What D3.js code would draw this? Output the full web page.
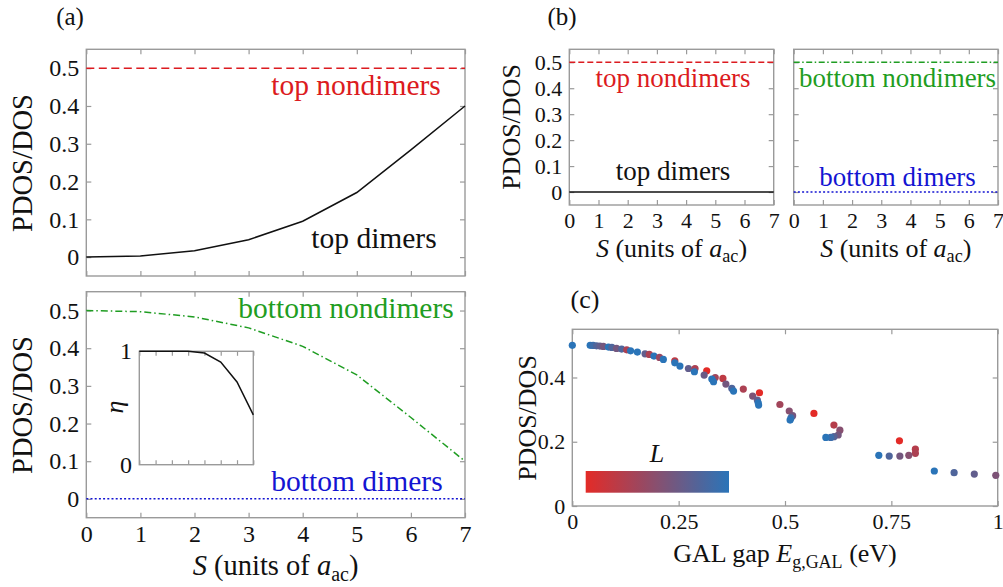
<!DOCTYPE html>
<html>
<head>
<meta charset="utf-8">
<script src="https://cdn.jsdelivr.net/npm/d3@7"></script>
<style>
body { margin: 0; background: #fff; }
svg text { font-family: "Liberation Serif", "Times New Roman", serif; fill: #111; }
</style>
</head>
<body>
<div id="fig"></div>
<script>
// separation S, in units of a_ac
var sVals = [0, 1, 2, 3, 4, 5, 6, 7];

// (a) PDOS/DOS against S
var topDimers       = [0, 0.003, 0.017, 0.046, 0.095, 0.171, 0.284, 0.4];
var topNondimers    = [0.5, 0.5, 0.5, 0.5, 0.5, 0.5, 0.5, 0.5];
var bottomNondimers = [0.5, 0.497, 0.483, 0.454, 0.405, 0.329, 0.216, 0.1];
var bottomDimers    = [0, 0, 0, 0, 0, 0, 0, 0];
var etaVals         = [1, 1, 1, 1, 0.985, 0.905, 0.73, 0.44];

// (b) PDOS/DOS against S, second structure
var bTopNondimers    = [0.5, 0.5, 0.5, 0.5, 0.5, 0.5, 0.5, 0.5];
var bTopDimers       = [0, 0, 0, 0, 0, 0, 0, 0];
var bBottomNondimers = [0.5, 0.5, 0.5, 0.5, 0.5, 0.5, 0.5, 0.5];
var bBottomDimers    = [0, 0, 0, 0, 0, 0, 0, 0];

// (c) PDOS/DOS against the GAL gap, coloured by L (0 = short, 1 = long)
var gapE = [0, 0.042, 0.049, 0.057, 0.065, 0.073, 0.085, 0.093, 0.104, 0.116, 0.128, 0.137,
  0.153, 0.171, 0.181, 0.192, 0.205, 0.214, 0.241, 0.241, 0.253, 0.273, 0.2885, 0.287,
  0.316, 0.310, 0.336, 0.328, 0.332, 0.354, 0.361, 0.375, 0.379, 0.402, 0.424, 0.440,
  0.435, 0.437, 0.438, 0.488, 0.510, 0.518, 0.514, 0.512, 0.568, 0.615, 0.629, 0.625,
  0.615, 0.6075, 0.596, 0.769, 0.8065, 0.8065, 0.791, 0.770, 0.745, 0.7205, 0.851,
  0.8975, 0.945, 0.9955];
var gapRatio = [0.5, 0.5, 0.4998, 0.4987, 0.4977, 0.4967, 0.4946, 0.4936, 0.4904, 0.4883,
  0.4862, 0.4831, 0.479, 0.4738, 0.4717, 0.4666, 0.4624, 0.4562, 0.452, 0.4457, 0.4355,
  0.428, 0.428, 0.4178, 0.421, 0.4075, 0.400, 0.395, 0.3867, 0.397, 0.3795, 0.366, 0.3577,
  0.364, 0.342, 0.3525, 0.3297, 0.321, 0.314, 0.316, 0.2955, 0.281, 0.274, 0.2675, 0.288,
  0.252, 0.236, 0.221, 0.2157, 0.2135, 0.2135, 0.203, 0.177, 0.164, 0.1577, 0.1555,
  0.1555, 0.1577, 0.1089, 0.1037, 0.0995, 0.0954];
var gapL = [1, 1, 0.9, 0.8, 0.7, 0.6, 1, 0.8, 0.6, 0.8, 0.3, 1, 1, 0.7, 0.3, 1, 0.4, 1,
  0.2, 1, 1, 0.7, 0.3, 1, 0, 0.65, 0.35, 1, 1, 0.2, 0.6, 0.8, 1, 0.3, 0.55, 0, 0.7, 1, 1,
  0.35, 0.5, 0.6, 0.9, 1, 0, 0.25, 0.5, 0.6, 0.75, 0.9, 1, 0, 0.25, 0.3, 0.5, 0.6, 0.8, 1,
  1, 0.8, 0.7, 0.55];

var pdosTicks = [0, 0.1, 0.2, 0.3, 0.4, 0.5];
var sTicks = [0, 1, 2, 3, 4, 5, 6, 7];
var gapTicks = [0, 0.25, 0.5, 0.75, 1];
var ratioTicks = [0, 0.2, 0.4];

var width = 1003, height = 587;
var red = "#dc1b20", green = "#1f9d22", blue = "#1414d2", frameColor = "#9a9a9a";
var lColor = d3.interpolateRgb("#e32b27", "#2a74b8");
var fmt = d3.format("~g");

var svg = d3.select("#fig").append("svg")
    .attr("width", width)
    .attr("height", height);

// frame with inward ticks on all four sides
function panel(box, xDom, yDom, xt, yt, o) {
    var g = svg.append("g");
    var x = d3.scaleLinear().domain(xDom).range([box.x0, box.x1]);
    var y = d3.scaleLinear().domain(yDom).range([box.y1, box.y0]);
    var t = o.tick || 5;

    g.append("g").attr("transform", "translate(0," + box.y1 + ")")
        .call(d3.axisBottom(x).tickValues(xt).tickSize(-t).tickPadding(o.xPad || 8)
            .tickFormat(o.xLabels ? fmt : ""));
    g.append("g").attr("transform", "translate(0," + box.y0 + ")")
        .call(d3.axisTop(x).tickValues(xt).tickSize(-t).tickFormat(""));
    if (yt) {
        g.append("g").attr("transform", "translate(" + box.x0 + ",0)")
            .call(d3.axisLeft(y).tickValues(yt).tickSize(-t).tickPadding(o.yPad || 7)
                .tickFormat(o.yLabels === false ? "" : fmt));
        g.append("g").attr("transform", "translate(" + box.x1 + ",0)")
            .call(d3.axisRight(y).tickValues(yt).tickSize(-t).tickFormat(""));
    }
    g.selectAll(".domain").remove();
    g.selectAll(".tick line").attr("stroke", frameColor).attr("stroke-width", 1.2);
    g.selectAll("g").attr("font-family", null).attr("font-size", null);
    g.selectAll(".tick text").style("font-size", (o.fs || 22) + "px").attr("fill", "#111");

    g.append("rect")
        .attr("x", box.x0).attr("y", box.y0)
        .attr("width", box.x1 - box.x0).attr("height", box.y1 - box.y0)
        .attr("fill", "none").attr("stroke", frameColor).attr("stroke-width", 1.4);
    return { g: g, x: x, y: y };
}

function curve(p, vals, color, dash, w) {
    var line = d3.line().x(function (d, i) { return p.x(sVals[i]); }).y(function (d) { return p.y(d); });
    p.g.append("path").datum(vals)
        .attr("d", line)
        .attr("fill", "none")
        .attr("stroke", color)
        .attr("stroke-width", w || 1.5)
        .attr("stroke-dasharray", dash || null);
}

function label(x, y, text, color, fs) {
    svg.append("text").attr("x", x).attr("y", y)
        .attr("text-anchor", "middle")
        .style("font-size", fs + "px")
        .style("fill", color)
        .text(text);
}

function yTitle(x, y, fs) {
    svg.append("text")
        .attr("transform", "translate(" + x + "," + y + ") rotate(-90)")
        .attr("text-anchor", "middle")
        .style("font-size", fs + "px")
        .text("PDOS/DOS");
}

function sTitle(x, y, fs) {
    var t = svg.append("text").attr("x", x).attr("y", y)
        .attr("text-anchor", "middle").style("font-size", fs + "px");
    t.append("tspan").style("font-style", "italic").text("S");
    t.append("tspan").text(" (units of ");
    t.append("tspan").style("font-style", "italic").text("a");
    t.append("tspan").attr("dy", fs * 0.22).style("font-size", (fs * 0.7) + "px").text("ac");
    t.append("tspan").attr("dy", -fs * 0.22).text(")");
}

// ---- (a) top
var a1 = panel({ x0: 86.3, x1: 465, y0: 49.3, y1: 276 }, [0, 7], [-0.05, 0.55], sTicks, pdosTicks,
    { xLabels: false, fs: 24, yPad: 7 });
curve(a1, topNondimers, red, "8,4.5");
curve(a1, topDimers, "#111");
label(356, 95, "top nondimers", red, 29.5);
label(374, 248, "top dimers", "#111", 29.5);
yTitle(31.5, 163, 28.5);

// ---- (a) bottom
var a2 = panel({ x0: 86.3, x1: 465, y0: 291.7, y1: 517.7 }, [0, 7], [-0.05, 0.55], sTicks, pdosTicks,
    { xLabels: true, fs: 24, yPad: 7, xPad: 7 });
curve(a2, bottomNondimers, green, "7,3,1.5,3");
curve(a2, bottomDimers, blue, "2,2.2");
label(346, 318, "bottom nondimers", green, 29.5);
label(357, 491, "bottom dimers", blue, 29.5);
yTitle(31.5, 405, 28.5);
sTitle(275.5, 575, 28.5);

// inset: eta against S
var ins = panel({ x0: 139.3, x1: 253.3, y0: 351.3, y1: 464.7 }, [0, 7], [0, 1], sTicks, null,
    { xLabels: false, tick: 4.5 });
ins.g.insert("rect", ":first-child")
    .attr("x", 139.3).attr("y", 351.3).attr("width", 114).attr("height", 113.4).attr("fill", "#fff");
curve(ins, etaVals, "#111");
[0, 1].forEach(function (v) {
    svg.append("text").attr("x", 132).attr("y", ins.y(v) + 8)
        .attr("text-anchor", "end").style("font-size", "24px").text(fmt(v));
});
svg.append("text")
    .attr("transform", "translate(123,407) rotate(-90)")
    .attr("text-anchor", "middle")
    .style("font-size", "26px").style("font-style", "italic")
    .text("η");

// ---- (b)
var b1 = panel({ x0: 569.3, x1: 773.7, y0: 49.3, y1: 205 }, [0, 7], [-0.05, 0.55], sTicks, pdosTicks,
    { xLabels: true, fs: 22, yPad: 7, xPad: 7 });
curve(b1, bTopNondimers, red, "6,3");
curve(b1, bTopDimers, "#111");
label(673, 87.3, "top nondimers", red, 27);
label(673, 180, "top dimers", "#111", 27);
yTitle(520, 127, 26);
sTitle(671.5, 256.5, 26);

var b2 = panel({ x0: 793.7, x1: 998, y0: 49.3, y1: 205 }, [0, 7], [-0.05, 0.55], sTicks, pdosTicks,
    { xLabels: true, fs: 22, yLabels: false, xPad: 7 });
curve(b2, bBottomNondimers, green, "6,2.5,1.5,2.5");
curve(b2, bBottomDimers, blue, "2,2.2");
label(897.5, 87.3, "bottom nondimers", green, 27);
label(897.5, 186, "bottom dimers", blue, 27);
sTitle(895.8, 256.5, 26);

// ---- (c)
var c = panel({ x0: 572.3, x1: 997.7, y0: 329.3, y1: 506 }, [0, 1], [0, 0.55], gapTicks, ratioTicks,
    { xLabels: true, fs: 22, yPad: 7, xPad: 7 });
c.g.append("g").selectAll("circle")
    .data(gapE)
    .join("circle")
    .attr("cx", function (d) { return c.x(d); })
    .attr("cy", function (d, i) { return c.y(gapRatio[i]); })
    .attr("r", 3.6)
    .attr("fill", function (d, i) { return lColor(gapL[i]); });

// colour bar for L
var grad = svg.append("defs").append("linearGradient").attr("id", "lgrad");
d3.range(0, 1.01, 0.1).forEach(function (s) {
    grad.append("stop").attr("offset", s).attr("stop-color", lColor(s));
});
svg.append("rect").attr("x", 585.7).attr("y", 471).attr("width", 143.3).attr("height", 21.7)
    .attr("fill", "url(#lgrad)");
svg.append("text").attr("x", 657).attr("y", 462).attr("text-anchor", "middle")
    .style("font-size", "26px").style("font-style", "italic").text("L");

yTitle(536, 418, 26);
var ct = svg.append("text").attr("x", 785).attr("y", 561.5)
    .attr("text-anchor", "middle").style("font-size", "26px");
ct.append("tspan").text("GAL gap ");
ct.append("tspan").style("font-style", "italic").text("E");
ct.append("tspan").attr("dy", 6).style("font-size", "18px").text("g,GAL");
ct.append("tspan").attr("dy", -6).text(" (eV)");

// panel letters
label(70, 25, "(a)", "#111", 25);
label(562, 25, "(b)", "#111", 25);
label(585, 308, "(c)", "#111", 26);
</script>
</body>
</html>
